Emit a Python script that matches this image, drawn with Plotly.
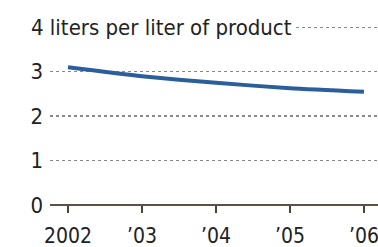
import plotly.graph_objects as go

years = [2002, 2003, 2004, 2005, 2006]
values = [3.1, 2.9, 2.75, 2.63, 2.55]
x_tick_labels = ["2002", "\u201903", "\u201904", "\u201905", "\u201906"]
y_ticks = [0, 1, 2, 3, 4]
y_tick_labels = ["0", "1", "2", "3", ""]
unit_label = "4 liters per liter of product"

FONT = "DejaVu Sans Condensed, sans-serif"

fig = go.Figure()
fig.add_trace(go.Scatter(
    x=years, y=values, mode="lines",
    line=dict(color="#2b5f9c", width=4, shape="spline", smoothing=0.6),
    hoverinfo="skip", showlegend=False,
))

fig.add_annotation(
    xref="paper", yref="y", x=-0.068, y=4, xanchor="left", yanchor="middle",
    text=unit_label, showarrow=False, bgcolor="white",
    font=dict(family=FONT, size=22, color="#222"), borderpad=2,
)

fig.update_layout(
    width=378, height=247,
    margin=dict(l=50, r=0, t=14, b=42, autoexpand=False),
    paper_bgcolor="white", plot_bgcolor="white",
    font=dict(family=FONT, size=22, color="#222"),
    xaxis=dict(
        range=[2001.757, 2006.19], tickvals=years, ticktext=x_tick_labels,
        showgrid=False, zeroline=False, showline=False,
        ticks="outside", ticklen=7, tickwidth=2, tickcolor="#4a4238",
        tickfont=dict(family=FONT, size=21, color="#222"),
        ticklabelstandoff=5, ticklabeloverflow="allow",
        fixedrange=True, automargin=False,
    ),
    yaxis=dict(
        range=[0, 4.3], tickvals=y_ticks, ticktext=y_tick_labels,
        showgrid=True, gridcolor="#888", griddash="dot", gridwidth=1.5,
        zeroline=True, zerolinecolor="#5a5248", zerolinewidth=2,
        showline=False, ticks="", ticklabelstandoff=6,
        tickfont=dict(family=FONT, size=22, color="#222"),
        fixedrange=True, automargin=False,
    ),
)

fig.write_html(
    "out.html",
    config={"displayModeBar": False, "staticPlot": True},
    post_script="document.body.style.margin='0';document.body.style.overflow='hidden';",
)
